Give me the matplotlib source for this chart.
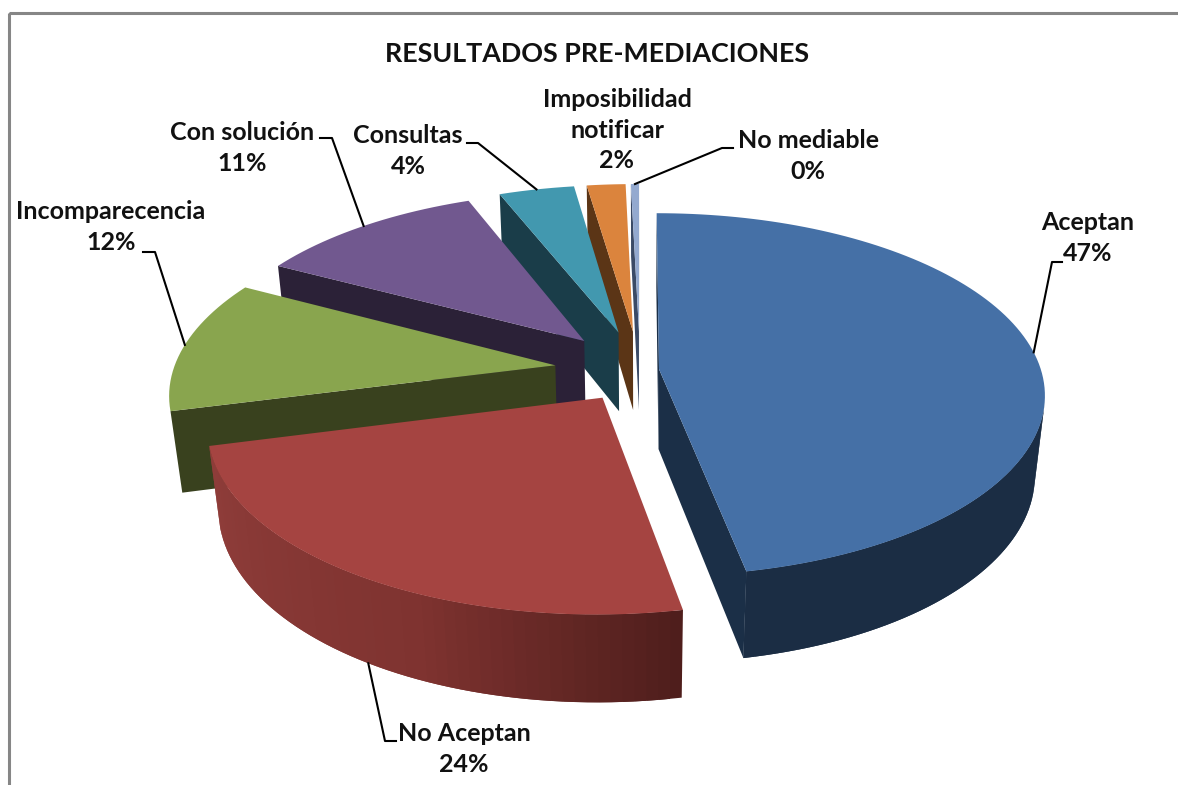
# -*- coding: utf-8 -*-

import numpy as np
import matplotlib
matplotlib.use('Agg')
import matplotlib.pyplot as plt
from matplotlib.patches import Rectangle

plt.rcParams['font.family'] = ['Lato', 'DejaVu Sans']

# data
categories = ['Aceptan', 'No Aceptan', 'Incomparecencia', 'Con solución', 'Consultas',
              'Imposibilidad\nnotificar', 'No mediable']
values = [46.9, 24.0, 11.8, 11.2, 3.7, 1.9, 0.4]
title = 'RESULTADOS PRE-MEDIACIONES'

# styles
explode = [0.05, 0.18, 0.224, 0.224, 0.224, 0.224, 0.224]
top_colors = ['#4570a6', '#a54441', '#89a54e', '#71588f', '#4298af', '#db843d', '#93a9cf']
wall_colors = ['#1b2f47', '#552120', '#39411e', '#2b2137', '#1a3d49', '#5b3516', '#3a4a66']
side_left = ['#1b2d44', '#8f3d3a', '#4f5c2c', '#3d3050', '#1f4a58', '#6b3f1c', '#3a4a66']
side_mid = ['#1b2d44', '#7f3330', '#4f5c2c', '#3d3050', '#1f4a58', '#6b3f1c', '#3a4a66']
side_right = ['#1f3550', '#4f1e1c', '#4f5c2c', '#3d3050', '#1f4a58', '#6b3f1c', '#3a4a66']

# label layout: centre of text, elbow of leader line, end of leader line, z of anchor
label_xy = [(1088, 238), (464, 749), (111, 227), (242, 148), (408, 151), (617, 130), (808, 156)]
elbow_xy = [(1052, 262), (385, 741), (155, 252), (332, 138), (478, 143), None, (722, 148)]
end_xy = [(1062, 262), (396, 741), (143, 252), (320, 138), (467, 143), None, (733, 148)]
anchor_z = [0, 1, 0, 0, 0, 0, 0]

# projection of the disc
CX, CY = 640, 370
RX, RY = 382, 178
DEPTH = 82
PERSP = 0.14
PERSP_Z = 0.025


def project(u, v, z):
    s = 1.0 / (1.0 + PERSP * v + PERSP_Z * z)
    return CX + RX * u * s, CY - RY * v * s + DEPTH * z * s


def area(pts):
    # signed area on screen, y going down
    x = np.array([p[0] for p in pts])
    y = np.array([p[1] for p in pts])
    return 0.5 * np.sum(x * np.roll(y, -1) - np.roll(x, -1) * y)


def hex_rgb(c):
    return np.array(matplotlib.colors.to_rgb(c))


def side_color(i, t):
    # t runs from the left end of the side to the right end
    if t < 0.6:
        return (1 - t / 0.6) * hex_rgb(side_left[i]) + t / 0.6 * hex_rgb(side_mid[i])
    t2 = (t - 0.6) / 0.4
    return (1 - t2) * hex_rgb(side_mid[i]) + t2 * hex_rgb(side_right[i])


fig = plt.figure(figsize=(11.78, 7.85), dpi=100)
ax = fig.add_axes([0, 0, 1, 1])
ax.set_xlim(0, 1178)
ax.set_ylim(785, 0)
ax.axis('off')

ax.add_patch(Rectangle((8.5, 12.5), 1300, 900, fill=False, ec='#868686', lw=2.2))

frac = np.array(values) / np.sum(values)
ends = np.cumsum(frac) * 2 * np.pi
starts = ends - frac * 2 * np.pi
mids = (starts + ends) / 2

# back slices first, the first slice goes last
for i in range(len(values) - 1, -1, -1):
    a0, a1 = starts[i], ends[i]
    ox = explode[i] * np.sin(mids[i])
    oy = explode[i] * np.cos(mids[i])
    ang = np.linspace(a0, a1, max(int(frac[i] * 240), 8))
    u = ox + np.sin(ang)
    v = oy + np.cos(ang)

    # outer side, in short overlapping strips so the shade can change
    for j in range(len(ang) - 1):
        k = min(j + 2, len(ang) - 1)
        pts = [project(u[j], v[j], 0), project(u[k], v[k], 0),
               project(u[k], v[k], 1), project(u[j], v[j], 1)]
        if area(pts) < 0:
            t = 1 - j / (len(ang) - 2.0)
            ax.fill(*zip(*pts), color=side_color(i, t), lw=0)

    # the two cut walls, only the ones that face us
    for a, sign in ((a0, -1), (a1, 1)):
        pts = [project(ox, oy, 0), project(ox + np.sin(a), oy + np.cos(a), 0),
               project(ox + np.sin(a), oy + np.cos(a), 1), project(ox, oy, 1)]
        if area(pts) * sign > 0:
            ax.fill(*zip(*pts), color=wall_colors[i], lw=0)

    # top face
    xs, ys = project(np.r_[ox, u], np.r_[oy, v], 0)
    ax.fill(xs, ys, color=top_colors[i], lw=0)

# labels and leader lines
for i, name in enumerate(categories):
    txt = '%s\n%d%%' % (name, round(frac[i] * 100))
    ax.text(label_xy[i][0], label_xy[i][1], txt, ha='center', va='center',
            fontsize=18, fontweight='bold', color='#111111', linespacing=1.42)
    ox = explode[i] * np.sin(mids[i])
    oy = explode[i] * np.cos(mids[i])
    ax_, ay_ = project(ox + np.sin(mids[i]), oy + np.cos(mids[i]), anchor_z[i])
    if elbow_xy[i] is not None:
        ax.plot([ax_, elbow_xy[i][0], end_xy[i][0]], [ay_, elbow_xy[i][1], end_xy[i][1]],
                color='black', lw=1.5, solid_joinstyle='round')

ax.text(597, 54, title, ha='center', va='center', fontsize=19.4, fontweight='bold',
        color='#111111')

fig.savefig('out.png', dpi=100, facecolor='white')
